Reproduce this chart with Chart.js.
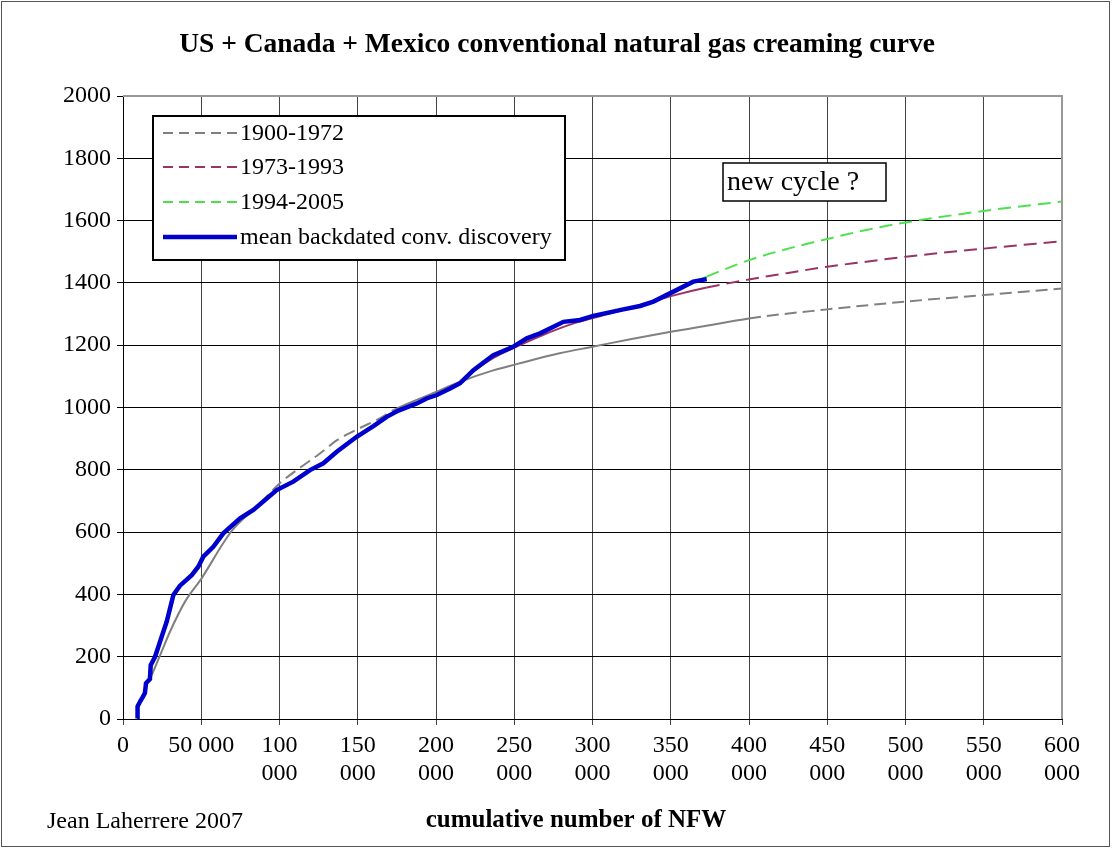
<!DOCTYPE html>
<html>
<head>
<meta charset="utf-8">
<script src="https://cdn.jsdelivr.net/npm/chart.js@4"></script>
<style>
html,body{margin:0;padding:0;background:#fff;}
#wrap{position:relative;width:1112px;height:849px;}
</style>
</head>
<body>
<div id="wrap"><canvas id="c" width="1112" height="849"></canvas></div>
<script>
// ---- data (cumulative NFW, gas volume) ----
const xTickLabels = ['0','50 000',['100','000'],['150','000'],['200','000'],['250','000'],['300','000'],['350','000'],['400','000'],['450','000'],['500','000'],['550','000'],['600','000']];
const yTickLabels = ['0','200','400','600','800','1000','1200','1400','1600','1800','2000'];
const seriesNames = ['1900-1972','1973-1993','1994-2005','mean backdated conv. discovery'];

const grayX = [18300,25000,30000,40000,50000,64000,70000,87500,100000,111000,126000,137000,151000,164000,173000,200000,215000,237000,252000,279000,300000,325000,350000,369000,400000,450000,500000,550000,600000];
const grayY = [140,220,280,380,450,564,607,692,756,799,853,896,933,965,992,1050,1082,1120,1140,1174,1195,1220,1243,1259,1286,1315,1340,1361,1382];

const purpleX = [213000,225000,237000,250000,266000,288000,310000,330000,352000,373000,400000,425000,450000,475000,500000,550000,600000];
const purpleY = [1072,1120,1160,1192,1228,1270,1300,1328,1360,1385,1411,1432,1452,1468,1484,1510,1534];

const greenX = [340000,352000,364000,373000,400000,425000,450000,475000,500000,550000,600000];
const greenY = [1340,1370,1400,1420,1473,1510,1541,1570,1594,1631,1661];

const blueX = [9100,9300,10900,12600,14000,14700,17200,17700,20400,22600,24700,27900,32200,36400,43900,48100,51300,57700,64100,74800,83300,98200,108800,119500,128000,136600,149300,160000,168500,176000,187700,194000,200500,209000,215400,223900,236600,249400,258000,266500,281400,292000,300500,319700,330400,338900,351700,364400,373000];
const blueY = [2,40,56,70,83,115,128,173,199,232,264,312,398,428,462,489,521,553,596,644,671,735,762,799,821,858,906,940,970,990,1013,1029,1040,1061,1078,1120,1168,1195,1222,1238,1275,1281,1294,1315,1326,1340,1372,1404,1412];

function pts(xs, ys){ return xs.map((x,i)=>({x:x,y:ys[i]})); }
const dashRule = ctx => {
  const x = ctx.p0.parsed.x;
  return (x >= 370000 || (x >= 85000 && x < 165000)) ? [12,6] : undefined;
};
const dashRuleFit = ctx => (ctx.p0.parsed.x >= 372000 ? [13,7] : undefined);

const serif = "'Liberation Serif','Times New Roman',serif";

const overlay = {
  id:'overlay',
  afterDraw(chart){
    const c = chart.ctx;
    const a = chart.chartArea;
    c.save();
    // outer frame
    c.strokeStyle = '#555'; c.lineWidth = 1;
    c.strokeRect(1.5,1.5,1108,845);
    // plot top/right frame
    c.strokeStyle = '#999'; c.lineWidth = 2;
    c.beginPath(); c.moveTo(a.left, a.top); c.lineTo(a.right, a.top); c.lineTo(a.right, a.bottom); c.stroke();
    // title
    c.fillStyle = '#000';
    c.textBaseline = 'middle';
    c.textAlign = 'center';
    c.font = "bold 27.5px " + serif;
    c.fillText('US + Canada + Mexico conventional natural gas creaming curve', 557, 45);
    c.font = "bold 25px " + serif;
    c.fillText('cumulative number of NFW', 576, 821);
    c.textAlign = 'left';
    c.font = "24px " + serif;
    c.fillText('Jean Laherrere 2007', 47, 822);
    // legend box
    const lx=153, ly=116, lw=412, lh=144;
    c.fillStyle='#fff'; c.fillRect(lx,ly,lw,lh);
    c.strokeStyle='#000'; c.lineWidth=2; c.strokeRect(lx,ly,lw,lh);
    const rows=[133,167,202,237];
    chart.data.datasets.forEach((ds,i)=>{
      const y = rows[i];
      c.strokeStyle = ds.borderColor;
      c.lineWidth = ds.borderWidth;
      c.setLineDash(ds.legendDash || []);
      c.beginPath(); c.moveTo(163,y); c.lineTo(237,y); c.stroke();
      c.setLineDash([]);
      c.fillStyle='#000';
      c.font = "24px " + serif;
      c.textAlign='left';
      c.fillText(ds.label, 240, y+1);
    });
    // new cycle box
    c.fillStyle='#fff'; c.fillRect(723,163,163,38);
    c.strokeStyle='#000'; c.lineWidth=1.5; c.strokeRect(723,163,163,38);
    c.fillStyle='#000'; c.font="28px " + serif; c.textAlign='left';
    c.fillText('new cycle ?', 727, 183);
    c.restore();
  }
};

new Chart(document.getElementById('c'), {
  type:'line',
  data:{
    datasets:[
      {label:seriesNames[0], data:pts(grayX,grayY), borderColor:'#808080', borderWidth:2, pointRadius:0, cubicInterpolationMode:'monotone', segment:{borderDash:dashRule}, legendDash:[10,6], order:4},
      {label:seriesNames[1], data:pts(purpleX,purpleY), borderColor:'#993366', borderWidth:2, pointRadius:0, cubicInterpolationMode:'monotone', segment:{borderDash:dashRuleFit}, legendDash:[10,6], order:3},
      {label:seriesNames[2], data:pts(greenX,greenY), borderColor:'#4fe04f', borderWidth:2, pointRadius:0, cubicInterpolationMode:'monotone', segment:{borderDash:dashRuleFit}, legendDash:[10,6], order:2},
      {label:seriesNames[3], data:pts(blueX,blueY), borderColor:'#0000cc', borderWidth:4.5, pointRadius:0, tension:0, order:1}
    ]
  },
  options:{
    responsive:false,
    animation:false,
    layout:{padding:{left:0, top:96, right:50, bottom:50}},
    plugins:{legend:{display:false}, title:{display:false}, tooltip:{enabled:false}},
    scales:{
      x:{
        type:'linear', min:0, max:600000,
        afterFit(s){ s.height = 80; },
        ticks:{stepSize:50000, color:'#000', font:{family:serif, size:24, lineHeight:1.17}, padding:7, maxRotation:0, autoSkip:false,
          callback:(v)=> xTickLabels[Math.round(v/50000)]},
        grid:{color:'#444', lineWidth:1, tickLength:6},
        border:{color:'#000', width:1}
      },
      y:{
        type:'linear', min:0, max:2000,
        afterFit(s){ s.width = 123; },
        ticks:{stepSize:200, color:'#000', font:{family:serif, size:24}, padding:6,
          callback:(v)=> yTickLabels[Math.round(v/200)]},
        grid:{color:'#000', lineWidth:1, tickLength:6},
        border:{color:'#000', width:1}
      }
    }
  },
  plugins:[overlay]
});
</script>
</body>
</html>
